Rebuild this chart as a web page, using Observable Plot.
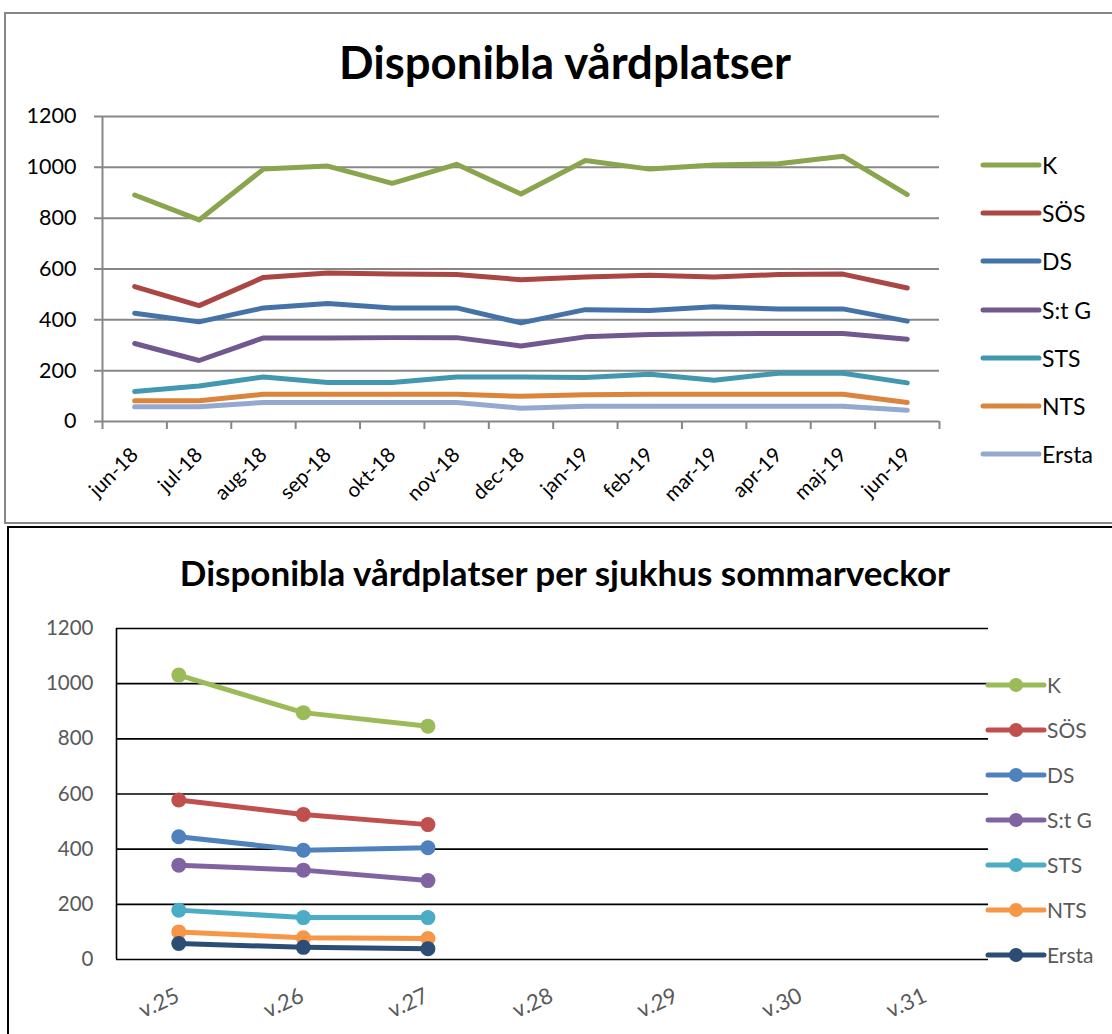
<!DOCTYPE html>
<html><head><meta charset="utf-8">
<script src="https://cdn.jsdelivr.net/npm/d3@7"></script>
<script src="https://cdn.jsdelivr.net/npm/@observablehq/plot@0.6"></script>
<style>
html,body{margin:0;padding:0;background:#fff;overflow:hidden;}
#wrap{position:relative;width:1112px;height:1034px;overflow:hidden;background:#fff;font-family:Lato,sans-serif;}
.box{position:absolute;box-sizing:border-box;}
#box1{left:4px;top:12px;width:1200px;height:512px;border:2px solid #878787;}
#box2{left:7px;top:526px;width:1200px;height:600px;border:2.5px solid #000;}
.title{position:absolute;left:0;width:1130px;text-align:center;font-weight:bold;color:#000;white-space:nowrap;}
#t1{top:40px;font-size:45.5px;line-height:44px;}
#t2{top:555px;font-size:35px;line-height:34px;}
.chart{position:absolute;left:0;}
.leg{position:absolute;display:flex;align-items:center;white-space:nowrap;}
</style></head>
<body><div id="wrap">
<div class="box" id="box1"></div>
<div class="box" id="box2"></div>
<div class="title" id="t1">Disponibla vårdplatser</div>
<div class="title" id="t2">Disponibla vårdplatser per sjukhus sommarveckor</div>
<div class="chart" id="c1" style="top:100px"></div>
<div class="chart" id="c2" style="top:600px"></div>
</div>
<script>
// ---- data: top chart ----
const months = ["jun-18","jul-18","aug-18","sep-18","okt-18","nov-18","dec-18","jan-19","feb-19","mar-19","apr-19","maj-19","jun-19"];
const seriesNames = ["K","SÖS","DS","S:t G","STS","NTS","Ersta"];
const topK     = [891, 793, 993, 1005, 937, 1012, 895, 1027, 993, 1009, 1014, 1044, 893];
const topSOS   = [531, 456, 567, 584, 580, 578, 558, 569, 575, 569, 578, 580, 525];
const topDS    = [426, 392, 447, 464, 447, 447, 388, 440, 437, 451, 443, 443, 395];
const topStG   = [307, 240, 329, 329, 330, 330, 297, 333, 342, 345, 346, 346, 324];
const topSTS   = [118, 140, 175, 153, 153, 175, 175, 173, 186, 162, 190, 190, 152];
const topNTS   = [82, 82, 107, 107, 107, 107, 99, 105, 107, 107, 107, 107, 75];
const topErsta = [58, 58, 75, 75, 75, 75, 52, 60, 60, 60, 60, 60, 44];
const topColors = ["#89A54E","#AA4643","#4572A7","#71588F","#4198AF","#DB843D","#93A9CF"];

// ---- data: bottom chart ----
const weeks = ["v.25","v.26","v.27","v.28","v.29","v.30","v.31"];
const wkK     = [1031, 895, 846];
const wkSOS   = [578, 526, 489];
const wkDS    = [445, 396, 405];
const wkStG   = [342, 324, 286];
const wkSTS   = [179, 152, 152];
const wkNTS   = [100, 79, 76];
const wkErsta = [58, 44, 39];
const wkColors = ["#9BBB59","#C0504D","#4F81BD","#8064A2","#4BACC6","#F79646","#2C4D75"];

const yTicks = [0, 200, 400, 600, 800, 1000, 1200];

const topValues = [topK, topSOS, topDS, topStG, topSTS, topNTS, topErsta];
const wkValues = [wkK, wkSOS, wkDS, wkStG, wkSTS, wkNTS, wkErsta];
const topData = seriesNames.flatMap((s, si) => topValues[si].map((v, i) => ({s, i, v})));
const wkData = seriesNames.flatMap((s, si) => wkValues[si].map((v, i) => ({s, i, v})));
const boundaries = d3.range(months.length + 1).map(i => i - 0.5);

const chart1 = Plot.plot({
  width: 960, height: 420,
  marginLeft: 102, marginRight: 21, marginTop: 16, marginBottom: 99,
  x: {domain: [-0.5, months.length - 0.5], axis: null},
  y: {domain: [0, 1200], axis: null},
  color: {domain: seriesNames, range: topColors},
  style: {fontFamily: "Lato, sans-serif", background: "transparent", overflow: "visible"},
  marks: [
    Plot.ruleY(yTicks, {stroke: "#878787", strokeWidth: 2, insetLeft: -8}),
    Plot.ruleX([-0.5], {stroke: "#878787", strokeWidth: 2}),
    Plot.ruleX(boundaries, {y1: 0, y2: 0, insetBottom: -8, stroke: "#878787", strokeWidth: 2}),
    Plot.text(yTicks, {y: d => d, text: d => String(d), frameAnchor: "left", dx: -26, textAnchor: "end", fontSize: 21.5, fill: "#000"}),
    Plot.text(months, {x: (d, i) => i, text: d => d, frameAnchor: "bottom", dy: 30, dx: 0, rotate: -45, textAnchor: "end", lineAnchor: "middle", fontSize: 20.5, fill: "#000"}),
    Plot.line(topData, {x: "i", y: "v", z: "s", stroke: "s", strokeWidth: 5, strokeLinejoin: "round", strokeLinecap: "round"})
  ]
});
document.getElementById("c1").append(chart1);

const chart2 = Plot.plot({
  width: 1000, height: 434,
  marginLeft: 116, marginRight: 12, marginTop: 28, marginBottom: 75,
  x: {domain: [-0.5, weeks.length - 0.5], axis: null},
  y: {domain: [0, 1200], axis: null},
  color: {domain: seriesNames, range: wkColors},
  style: {fontFamily: "Lato, sans-serif", background: "transparent", overflow: "visible"},
  marks: [
    Plot.ruleY(yTicks, {stroke: "#000", strokeWidth: 1.6}),
    Plot.ruleX([-0.5], {stroke: "#000", strokeWidth: 1.6}),
    Plot.text(yTicks, {y: d => d, text: d => String(d), frameAnchor: "left", dx: -23, textAnchor: "end", fontSize: 20.5, fill: "#595959"}),
    Plot.text(weeks, {x: (d, i) => i, text: d => d, frameAnchor: "bottom", dy: 35, dx: -1, rotate: -25, textAnchor: "end", lineAnchor: "middle", fontSize: 22, fill: "#595959"}),
    Plot.line(wkData, {x: "i", y: "v", z: "s", stroke: "s", strokeWidth: 5, strokeLinejoin: "round", strokeLinecap: "round"}),
    Plot.dot(wkData, {x: "i", y: "v", fill: "s", r: 7.5, stroke: "none"})
  ]
});
document.getElementById("c2").append(chart2);

// ---- legends (HTML) ----
function legend(names, colors, o) {
  const wrap = document.getElementById("wrap");
  names.forEach((n, k) => {
    const row = document.createElement("div");
    row.className = "leg";
    const h = 30;
    row.style.left = o.left + "px";
    row.style.top = (o.y0 + o.step * k - h / 2) + "px";
    row.style.height = h + "px";
    const w = o.lineW + 6;
    let svg = `<svg width="${w}" height="${h}" style="display:block"><line x1="3" x2="${w - 3}" y1="${h / 2}" y2="${h / 2}" stroke="${colors[k]}" stroke-width="${o.sw}" stroke-linecap="round"/>`;
    if (o.dot) svg += `<circle cx="${w / 2}" cy="${h / 2}" r="${o.dot}" fill="${colors[k]}"/>`;
    svg += `</svg>`;
    row.innerHTML = svg + `<span style="font-size:${o.fs}px;color:${o.color};margin-left:${o.gap}px;line-height:${h}px">${n}</span>`;
    wrap.append(row);
  });
}
legend(seriesNames, topColors, {left: 980, y0: 165, step: 48.2, lineW: 56, sw: 5, fs: 23, color: "#000", gap: 0});
legend(seriesNames, wkColors, {left: 985, y0: 684.5, step: 45, lineW: 56, sw: 5, dot: 7, fs: 21, color: "#595959", gap: 0});
</script>
</body></html>
